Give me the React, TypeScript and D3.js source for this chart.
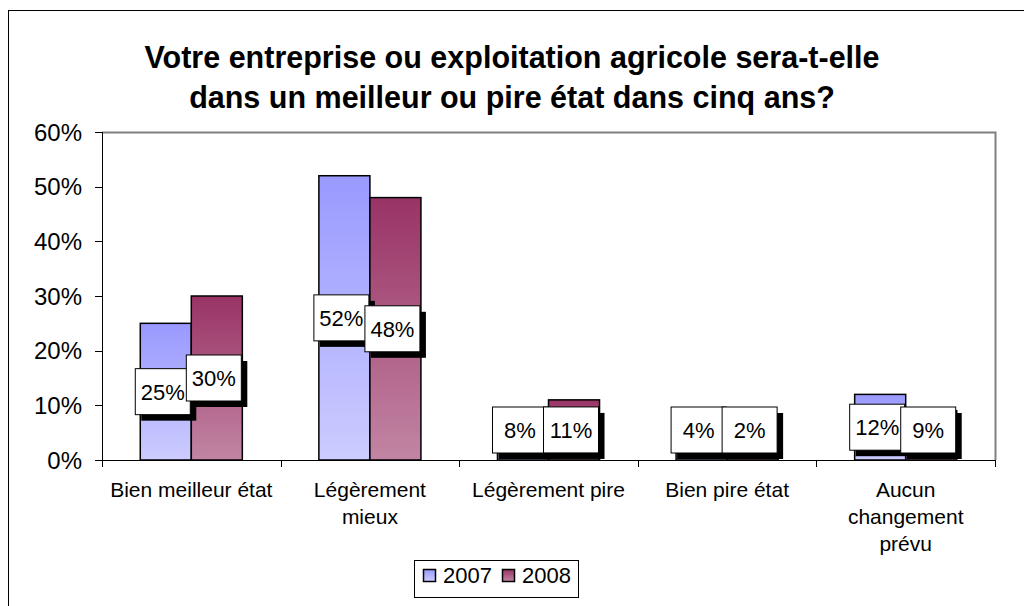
import React from "react";
import * as d3 from "d3";

const categories = [
  "Bien meilleur état",
  "Légèrement\nmieux",
  "Légèrement pire",
  "Bien pire état",
  "Aucun\nchangement\nprévu",
];
const seriesNames = ["2007", "2008"];
const values2007 = [0.25, 0.52, 0.08, 0.04, 0.12];
const values2008 = [0.3, 0.48, 0.11, 0.02, 0.09];
const yTicks = [0, 0.1, 0.2, 0.3, 0.4, 0.5, 0.6];
const titleLines = [
  "Votre entreprise ou exploitation agricole sera-t-elle",
  "dans un meilleur ou pire état dans cinq ans?",
];

const FONT = "Arial, 'Liberation Sans', Helvetica, sans-serif";

export default function App() {
  const W = 1024;
  const H = 606;
  const plot = { left: 102, right: 995, top: 132, bottom: 460 };

  const x = d3.scaleBand<string>().domain(categories).range([plot.left, plot.right]).paddingInner(0).paddingOuter(0);
  const xs = d3.scaleBand<string>().domain(seriesNames).range([0, x.bandwidth()]).paddingInner(0).paddingOuter(0.75);
  const y = d3.scaleLinear().domain([0, 0.6]).range([plot.bottom, plot.top]);
  const fmt = d3.format(".0%");

  const seriesValues = [values2007, values2008];
  const gradIds = ["g2007", "g2008"];

  const boxW = 55;
  const boxH = 46;
  const sh = 6;

  const bars: JSX.Element[] = [];
  const labels: JSX.Element[] = [];
  seriesNames.forEach((s, si) => {
    categories.forEach((c, ci) => {
      const v = seriesValues[si][ci];
      const bx = (x(c) as number) + (xs(s) as number);
      const bw = xs.bandwidth();
      const top = y(v);
      bars.push(
        <rect key={`b${si}${ci}`} x={bx} y={top} width={bw} height={plot.bottom - top}
          fill={`url(#${gradIds[si]})`} stroke="#000" strokeWidth={1.5} />
      );
    });
  });
  seriesNames.forEach((s, si) => {
    categories.forEach((c, ci) => {
      const v = seriesValues[si][ci];
      const bx = (x(c) as number) + (xs(s) as number);
      const bw = xs.bandwidth();
      const cx = bx + bw / 2 - 3;
      const mid = (y(v) + plot.bottom) / 2;
      const cy = Math.min(mid, plot.bottom - sh - boxH / 2 - 1);
      labels.push(
        <g key={`l${si}${ci}`}>
          <rect x={cx - boxW / 2 + sh} y={cy - boxH / 2 + sh} width={boxW} height={boxH} fill="#000" />
          <rect x={cx - boxW / 2} y={cy - boxH / 2} width={boxW} height={boxH} fill="#fff" stroke="#000" strokeWidth={1} />
          <text x={cx} y={cy} dy="0.36em" textAnchor="middle" fontSize={22} fontFamily={FONT} fill="#000">
            {fmt(v)}
          </text>
        </g>
      );
    });
  });

  return (
    <svg width={W} height={H} style={{ position: "absolute", left: 0, top: 0, background: "#fff" }}>
      <defs>
        <linearGradient id="g2007" x1="0" y1="0" x2="0" y2="1">
          <stop offset="0" stopColor="#9999FF" />
          <stop offset="1" stopColor="#CCCCFF" />
        </linearGradient>
        <linearGradient id="g2008" x1="0" y1="0" x2="0" y2="1">
          <stop offset="0" stopColor="#993366" />
          <stop offset="1" stopColor="#C285A3" />
        </linearGradient>
      </defs>
      <rect x={0} y={0} width={W} height={H} fill="#fff" />
      <rect x={8.5} y={10.5} width={1030} height={620} fill="none" stroke="#000" strokeWidth={1} />

      {titleLines.map((t, i) => (
        <text key={t} x={512} y={68 + i * 40} textAnchor="middle" fontSize={30.5} fontWeight="bold" fontFamily={FONT} fill="#000">
          {t}
        </text>
      ))}

      {/* plot area border */}
      <path d={`M${plot.left},${plot.top + 0.5}H${plot.right + 0.5}V${plot.bottom}`} fill="none" stroke="#808080" strokeWidth={2} />

      {bars}

      {/* y axis */}
      <line x1={plot.left + 0.5} x2={plot.left + 0.5} y1={plot.top} y2={plot.bottom} stroke="#000" strokeWidth={1} />
      {yTicks.map((t) => (
        <g key={t}>
          <line x1={plot.left - 7} x2={plot.left} y1={Math.round(y(t)) + 0.5} y2={Math.round(y(t)) + 0.5} stroke="#000" />
          <text x={82} y={y(t)} dy="0.36em" textAnchor="end" fontSize={24} fontFamily={FONT} fill="#000">
            {fmt(t)}
          </text>
        </g>
      ))}

      {/* x axis */}
      <line x1={plot.left} x2={plot.right} y1={plot.bottom + 0.5} y2={plot.bottom + 0.5} stroke="#000" />
      {categories.concat([""]).map((c, i) => {
        const xx = Math.round(plot.left + i * x.step()) + 0.5;
        return <line key={`t${i}`} x1={xx} x2={xx} y1={plot.bottom} y2={plot.bottom + 7} stroke="#000" />;
      })}
      {categories.map((c) => (
        <text key={c} x={(x(c) as number) + x.bandwidth() / 2} y={497} textAnchor="middle" fontSize={21} fontFamily={FONT} fill="#000">
          {c.split("\n").map((ln, i) => (
            <tspan key={i} x={(x(c) as number) + x.bandwidth() / 2} dy={i === 0 ? 0 : 27}>
              {ln}
            </tspan>
          ))}
        </text>
      ))}

      {labels}

      {/* legend */}
      <rect x={414.5} y={560.5} width={164} height={37} fill="#fff" stroke="#000" />
      {seriesNames.map((s, i) => {
        const lx = 423 + i * 79;
        return (
          <g key={s}>
            <rect x={lx + 0.5} y={569.5} width={12} height={12} fill={`url(#${gradIds[i]})`} stroke="#000" strokeWidth={1.5} />
            <text x={lx + 20} y={575} dy="0.36em" fontSize={22} fontFamily={FONT} fill="#000">
              {s}
            </text>
          </g>
        );
      })}
    </svg>
  );
}
